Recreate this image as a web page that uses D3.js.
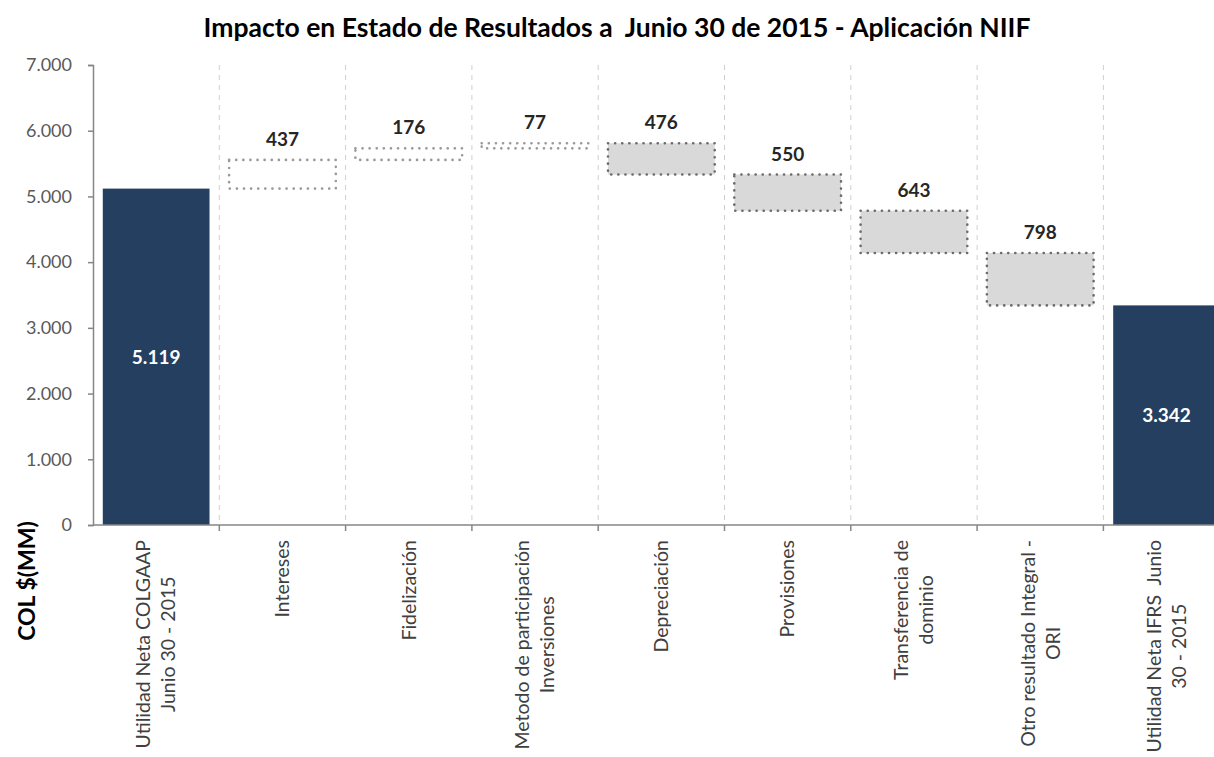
<!DOCTYPE html>
<html>
<head>
<meta charset="utf-8">
<script src="https://cdn.jsdelivr.net/npm/d3@7"></script>
<style>
  html, body { margin: 0; padding: 0; background: #ffffff; }
  svg { display: block; font-family: Lato, "Open Sans", sans-serif; }
  svg text { white-space: pre; }
</style>
</head>
<body>
<svg id="chart" width="1214" height="757"></svg>
<script>
// ---- data ----
const title = "Impacto en Estado de Resultados a  Junio 30 de 2015 - Aplicación NIIF";
const yAxisTitle = "COL $(MM)";
const categories = [
  ["Utilidad Neta COLGAAP", "Junio 30 - 2015"],
  ["Intereses"],
  ["Fidelización"],
  ["Metodo de participación", "Inversiones"],
  ["Depreciación"],
  ["Provisiones"],
  ["Transferencia de", "dominio"],
  ["Otro resultado Integral -", "ORI"],
  ["Utilidad Neta IFRS  Junio", "30 - 2015"]
];
const values = [5119, 437, 176, 77, -476, -550, -643, -798, 3342];
const kinds  = ["total", "inc", "inc", "inc", "dec", "dec", "dec", "dec", "total"];
const yTicks = [0, 1000, 2000, 3000, 4000, 5000, 6000, 7000];

(function () {
// ---- build waterfall ----
let run = 0;
const rows = values.map((v, i) => {
  let lo, hi;
  if (kinds[i] === "total") { lo = 0; hi = v; run = v; }
  else { const s = run; run = run + v; lo = Math.min(s, run); hi = Math.max(s, run); }
  return { i, key: "c" + i, label: categories[i], value: v, kind: kinds[i], lo, hi };
});

const loc = d3.formatLocale({ decimal: ",", thousands: ".", grouping: [3], currency: ["$", ""] });
const fmt = loc.format(",d");

const svg = d3.select("#chart");
const mLeft = 93, mTop = 65, mBottom = 525;
const step = 126.3;

const x = d3.scaleBand()
  .domain(rows.map(d => d.key))
  .range([mLeft, mLeft + step * rows.length])
  .paddingInner(0.155)
  .paddingOuter(0.0775);

const y = d3.scaleLinear().domain([0, 7000]).range([mBottom, mTop]);

// gridlines (between categories)
const bounds = d3.range(1, rows.length).map(k => x(rows[k].key) - x.step() * x.paddingInner() / 2);
svg.append("g").selectAll("line").data(bounds).join("line")
  .attr("x1", d => d).attr("x2", d => d)
  .attr("y1", mTop).attr("y2", mBottom)
  .attr("stroke", "#cfcfcf").attr("stroke-width", 1)
  .attr("stroke-dasharray", "5,5");

// title
svg.append("text")
  .attr("x", 617).attr("y", 37)
  .attr("text-anchor", "middle")
  .attr("font-weight", "bold").attr("font-size", 26.5)
  .attr("fill", "#000")
  .text(title);

// bars
const g = svg.append("g");
rows.forEach(d => {
  const bx = x(d.key), bw = x.bandwidth();
  const by = y(d.hi), bh = y(d.lo) - y(d.hi);
  if (d.kind === "total") {
    g.append("rect").attr("x", bx).attr("y", by).attr("width", bw).attr("height", bh)
      .attr("fill", "#243f60");
    g.append("text")
      .attr("x", bx + bw / 2).attr("y", by + bh / 2)
      .attr("dy", "0.36em")
      .attr("text-anchor", "middle")
      .attr("font-weight", "bold").attr("font-size", 19)
      .attr("fill", "#ffffff")
      .text(fmt(d.value));
  } else {
    const inc = d.kind === "inc";
    g.append("rect").attr("x", bx).attr("y", by).attr("width", bw).attr("height", bh)
      .attr("fill", inc ? "#ffffff" : "#d9d9d9")
      .attr("stroke", inc ? "#9a9a9a" : "#6b6b6b")
      .attr("stroke-width", 2.6)
      .attr("stroke-linecap", "round")
      .attr("stroke-dasharray", "0.1,7");
    g.append("text")
      .attr("x", bx + bw / 2).attr("y", by - 14)
      .attr("text-anchor", "middle")
      .attr("font-weight", "bold").attr("font-size", 19)
      .attr("fill", "#262626")
      .text(fmt(Math.abs(d.value)));
  }
});

// y axis
const yAxis = svg.append("g").attr("transform", `translate(${mLeft},0)`)
  .call(d3.axisLeft(y).tickValues(yTicks).tickFormat(fmt).tickSize(5).tickPadding(16));
yAxis.select(".domain").attr("stroke", "#868686").attr("stroke-width", 1.5);
yAxis.selectAll(".tick line").attr("stroke", "#868686").attr("stroke-width", 1.5);
yAxis.selectAll(".tick text").attr("font-size", 18).attr("fill", "#595959")
  .attr("font-family", "Lato, sans-serif");

// x axis line + ticks at boundaries
svg.append("line").attr("x1", mLeft).attr("x2", 1214).attr("y1", mBottom).attr("y2", mBottom)
  .attr("stroke", "#868686").attr("stroke-width", 1.5);
svg.append("g").selectAll("line").data(bounds).join("line")
  .attr("x1", d => d).attr("x2", d => d).attr("y1", mBottom).attr("y2", mBottom + 6)
  .attr("stroke", "#868686").attr("stroke-width", 1.5);

// x labels
const lineH = 25;
rows.forEach(d => {
  const cx = x(d.key) + x.bandwidth() / 2;
  const t = svg.append("text")
    .attr("font-size", 19.5).attr("fill", "#404040")
    .attr("text-anchor", "middle");
  const n = d.label.length;
  d.label.forEach((ln, k) => {
    t.append("tspan").attr("x", 0)
      .attr("y", (k - (n - 1) / 2) * lineH)
      .attr("dy", "0.35em")
      .text(ln);
  });
  let maxW = 0;
  t.selectAll("tspan").each(function () { maxW = Math.max(maxW, this.getComputedTextLength()); });
  t.attr("transform", `translate(${cx},${540 + maxW / 2}) rotate(-90)`);
});

// y axis title
svg.append("text")
  .attr("transform", "translate(27,581) rotate(-90)")
  .attr("dy", "0.35em")
  .attr("text-anchor", "middle")
  .attr("font-weight", "bold").attr("font-size", 23)
  .attr("fill", "#000")
  .text(yAxisTitle);
})();
</script>
</body>
</html>
